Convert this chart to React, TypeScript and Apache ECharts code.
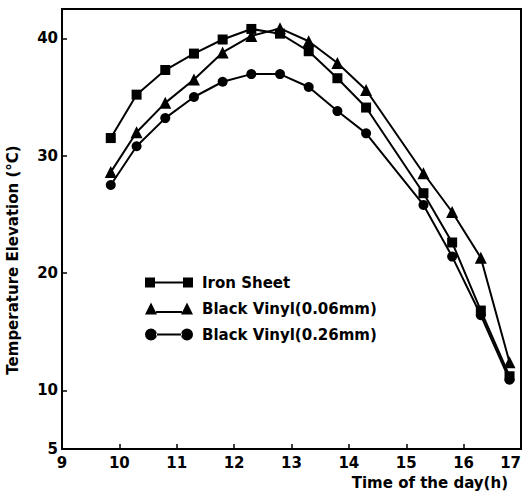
import React, { useEffect, useRef } from "react";
import * as echarts from "echarts";

const times = [9.85, 10.3, 10.8, 11.3, 11.8, 12.3, 12.8, 13.3, 13.8, 14.3, 15.3, 15.8, 16.3, 16.8];
const ironSheet = [31.5, 35.2, 37.3, 38.7, 39.9, 40.8, 40.4, 38.9, 36.6, 34.1, 26.8, 22.6, 16.8, 11.2];
const vinyl006 = [28.6, 32.0, 34.5, 36.5, 38.8, 40.2, 40.85, 39.75, 37.9, 35.6, 28.5, 25.2, 21.3, 12.4];
const vinyl026 = [27.5, 30.8, 33.2, 35.0, 36.3, 36.95, 36.95, 35.85, 33.8, 31.9, 25.8, 21.4, 16.4, 10.9];

const seriesNames = ["Iron Sheet", "Black Vinyl(0.06mm)", "Black Vinyl(0.26mm)"];
const yLabelValues = [5, 10, 20, 30, 40];
const yTickValues = [10, 20, 30, 40];
const xTickValues = [10, 11, 12, 13, 14, 15, 16];
const xLabelValues = [9, 10, 11, 12, 13, 14, 15, 16, 17];

const FONT = "DejaVu Sans";

const iconSquare = "path://M0,1h10v10h-10z M10,5h28v2h-28z M38,1h10v10h-10z";
const iconTriangle = "path://M0,12L6,0L12,12z M11,8.5h26v2h-26z M36,12L42,0L48,12z";
const iconCircle =
  "path://M0,6a6,6 0 1,0 12,0a6,6 0 1,0 -12,0z M11,5h26v2h-26z M36,6a6,6 0 1,0 12,0a6,6 0 1,0 -12,0z";

export default function App() {
  const ref = useRef<HTMLDivElement>(null);

  useEffect(() => {
    if (!ref.current) return;
    const chart = echarts.init(ref.current, null, { renderer: "svg" });
    const mk = (vals: number[]) => times.map((t, i) => [t, vals[i]]);
    const lineStyle = { color: "#000", width: 2 };
    chart.setOption({
      animation: false,
      backgroundColor: "#fff",
      grid: {
        left: 62,
        right: 2,
        top: 9,
        bottom: 51,
        outerBoundsMode: "none",
        containLabel: false,
        show: true,
        borderColor: "#000",
        borderWidth: 2,
        backgroundColor: "transparent",
      },
      legend: {
        orient: "vertical",
        left: 145,
        top: 275,
        padding: 0,
        itemWidth: 48,
        itemHeight: 12,
        itemGap: 11,
        textStyle: {
          fontFamily: FONT,
          fontSize: 15,
          fontWeight: "bold",
          color: "#000",
          padding: [0, 0, 0, 4],
        },
        data: [
          { name: seriesNames[0], icon: iconSquare },
          { name: seriesNames[1], icon: iconTriangle },
          { name: seriesNames[2], icon: iconCircle },
        ],
      },
      xAxis: {
        type: "value",
        min: 9,
        max: 17,
        interval: 1,
        name: "Time of the day(h)",
        nameLocation: "end",
        nameGap: 0,
        nameTextStyle: {
          fontFamily: FONT,
          fontSize: 15,
          fontWeight: "bold",
          color: "#000",
          align: "right",
          verticalAlign: "top",
          padding: [26, 13, 0, 0],
        },
        splitLine: { show: false },
        axisLine: { show: true, lineStyle: { color: "#000", width: 2 } },
        axisTick: {
          show: true,
          inside: true,
          length: 5,
          customValues: xTickValues,
          lineStyle: { color: "#000", width: 1.5 },
        },
        axisLabel: {
          customValues: xLabelValues,
          alignMaxLabel: "right",
          margin: 6,
          fontFamily: FONT,
          fontSize: 15,
          fontWeight: "bold",
          color: "#000",
        },
      },
      yAxis: {
        type: "value",
        min: 5,
        max: 42.5,
        name: "Temperature Elevation (°C)",
        nameLocation: "middle",
        nameGap: 42,
        nameTextStyle: {
          fontFamily: FONT,
          fontSize: 15,
          fontWeight: "bold",
          color: "#000",
          padding: [0, 62, 0, 0],
        },
        splitLine: { show: false },
        axisLine: { show: true, lineStyle: { color: "#000", width: 2 } },
        axisTick: {
          show: true,
          inside: true,
          length: 5,
          customValues: yTickValues,
          lineStyle: { color: "#000", width: 1.5 },
        },
        axisLabel: {
          customValues: yLabelValues,
          margin: 4,
          fontFamily: FONT,
          fontSize: 15,
          fontWeight: "bold",
          color: "#000",
        },
      },
      series: [
        {
          name: seriesNames[0],
          type: "line",
          data: mk(ironSheet),
          symbol: "rect",
          symbolSize: 10,
          lineStyle,
          itemStyle: { color: "#000" },
        },
        {
          name: seriesNames[1],
          type: "line",
          data: mk(vinyl006),
          symbol: "triangle",
          symbolSize: 12,
          lineStyle,
          itemStyle: { color: "#000" },
        },
        {
          name: seriesNames[2],
          type: "line",
          data: mk(vinyl026),
          symbol: "circle",
          symbolSize: 10,
          lineStyle,
          itemStyle: { color: "#000" },
        },
      ],
    });
    return () => chart.dispose();
  }, []);

  return <div ref={ref} style={{ width: 523, height: 500, position: "absolute", left: 0, top: 0 }} />;
}
